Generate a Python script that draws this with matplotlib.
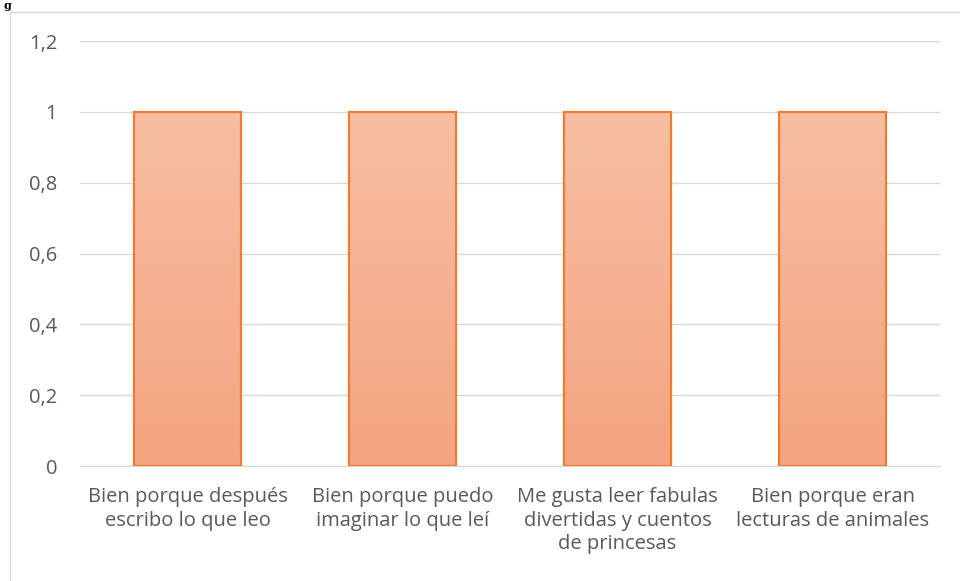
import matplotlib
matplotlib.use('Agg')
import matplotlib.pyplot as plt
import matplotlib.patches as mpatches
import numpy as np

categories = [
    'Bien porque después\nescribo lo que leo',
    'Bien porque puedo\nimaginar lo que leí',
    'Me gusta leer fabulas\ndivertidas y cuentos\nde princesas',
    'Bien porque eran\nlecturas de animales',
]
values = [1, 1, 1, 1]
yticks = [0, 0.2, 0.4, 0.6, 0.8, 1.0, 1.2]
ytick_labels = ['0', '0,2', '0,4', '0,6', '0,8', '1', '1,2']

plt.rcParams['font.family'] = ['Open Sans', 'DejaVu Sans']

fig = plt.figure(figsize=(9.6, 5.81), dpi=100)
ax = fig.add_axes([80 / 960, 1 - 466 / 581, 860 / 960, 425 / 581])

# chart border (clipped at right/bottom like the source)
fig.patches.append(mpatches.Rectangle(
    (10 / 960, -0.01), 1.0, 1 - 12 / 581 + 0.01, transform=fig.transFigure,
    fill=False, edgecolor='#D9D9D9', linewidth=1))
fig.text(3 / 960, 1 - 11 / 581, 'g', fontsize=8, fontweight='bold',
         family='DejaVu Serif', va='bottom', ha='left', color='black')

x = np.arange(len(categories))
bars = ax.bar(x, values, width=0.5, color='none', edgecolor='#ED7D31',
              linewidth=1.6, zorder=3)

# vertical gradient inside each bar
grad = np.linspace(0, 1, 256).reshape(-1, 1)
cmap = matplotlib.colors.LinearSegmentedColormap.from_list(
    'g', ['#F4A480', '#F7BEA3'])
for b in bars:
    im = ax.imshow(grad, cmap=cmap, origin='lower', aspect='auto',
                   extent=[b.get_x(), b.get_x() + b.get_width(), 0, b.get_height()],
                   zorder=2)
    im.set_clip_path(b)

ax.set_xlim(-0.5, len(categories) - 0.5)
ax.set_ylim(0, 1.2)
ax.set_yticks(yticks)
ax.set_yticklabels(ytick_labels)
ax.set_xticks(x)
ax.set_xticklabels(categories, linespacing=1.25)
ax.yaxis.grid(True, color='#D9D9D9', linewidth=1, zorder=0)
ax.set_axisbelow(True)
for s in ['top', 'right', 'left']:
    ax.spines[s].set_visible(False)
ax.spines['bottom'].set_color('#D9D9D9')
ax.tick_params(axis='both', length=0, colors='#595959', labelsize=14.5)
ax.tick_params(axis='y', pad=16.5)
ax.tick_params(axis='x', pad=15)

fig.savefig('out.png', dpi=100, facecolor='white')
